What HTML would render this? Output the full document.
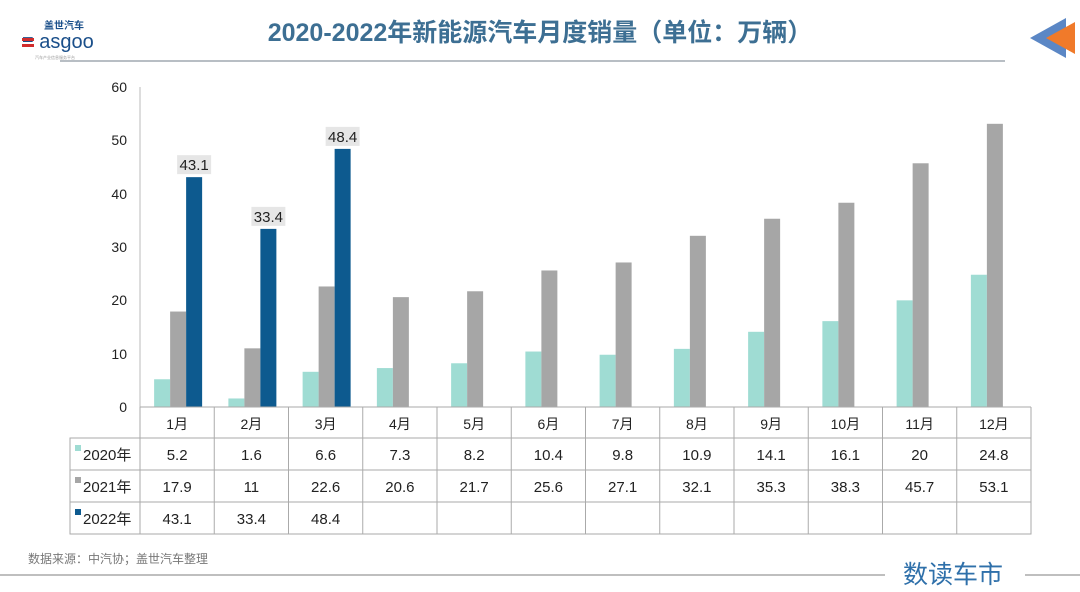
<!DOCTYPE html>
<html><head><meta charset="utf-8"><style>
body{margin:0;background:#fff;}
svg text{font-family:"Liberation Sans","Noto Sans CJK SC",sans-serif;}
</style></head><body>
<svg width="1080" height="587" viewBox="0 0 1080 587" xmlns="http://www.w3.org/2000/svg">
<rect width="1080" height="587" fill="#fff"/>
<!-- logo -->
<text x="44" y="29" font-size="10" fill="#1a4f8a" font-weight="bold">盖世汽车</text>
<text x="22" y="48" font-size="20" fill="#1a4f8a" font-family="Liberation Serif,serif">≡ asgoo</text>
<rect x="22" y="38" width="12" height="3" fill="#d12c2c"/>
<rect x="22" y="44" width="12" height="3" fill="#d12c2c"/>
<text x="35" y="59" font-size="4" fill="#999">汽车产业信息服务平台</text>
<!-- title -->
<text x="540" y="41" text-anchor="middle" font-size="25" font-weight="bold" fill="#3d6f93">2020-2022年新能源汽车月度销量（单位：万辆）</text>
<line x1="60" y1="61" x2="1005" y2="61" stroke="#a0a8b0" stroke-width="1.5"/>
<polygon points="1030,38 1066,18 1066,58" fill="#5b87c5"/>
<polygon points="1046,38 1075,22 1075,54" fill="#f07a2a"/>
<!-- y axis -->
<line x1="140" y1="87" x2="140" y2="407" stroke="#bbb"/>
<g font-size="14" fill="#222" text-anchor="end">
<text x="127" y="412">0</text><text x="127" y="359">10</text><text x="127" y="305">20</text>
<text x="127" y="252">30</text><text x="127" y="199">40</text><text x="127" y="145">50</text><text x="127" y="92">60</text>
</g>
<!-- bars -->
<g id="bars"></g>
<!-- table -->
<g stroke="#aaa" stroke-width="1" fill="none">
<rect x="70" y="438" width="961" height="96"/>
<line x1="140" y1="407" x2="1031" y2="407"/>
<line x1="1031" y1="407" x2="1031" y2="438"/>
<line x1="70" y1="470" x2="1031" y2="470"/>
<line x1="70" y1="502" x2="1031" y2="502"/>
</g>
<g id="tbl"></g>
<rect x="75" y="445" width="6" height="6" fill="#9fdcd3"/>
<rect x="75" y="477" width="6" height="6" fill="#a6a6a6"/>
<rect x="75" y="509" width="6" height="6" fill="#0d5a8f"/>
<g font-size="15" fill="#222">
<text x="83" y="460">2020年</text><text x="83" y="492">2021年</text><text x="83" y="524">2022年</text>
</g>
<text x="28" y="563" font-size="12" fill="#777">数据来源：中汽协；盖世汽车整理</text>
<line x1="0" y1="575" x2="885" y2="575" stroke="#aaa" stroke-width="1.5"/>
<line x1="1025" y1="575" x2="1080" y2="575" stroke="#aaa" stroke-width="1.5"/>
<text x="903" y="583" font-size="25" fill="#2f70aa">数读车市</text>
</svg>
<script>
const d20=[5.2,1.6,6.6,7.3,8.2,10.4,9.8,10.9,14.1,16.1,20,24.8];
const d21=[17.9,11,22.6,20.6,21.7,25.6,27.1,32.1,35.3,38.3,45.7,53.1];
const d22=[43.1,33.4,48.4];
const ns="http://www.w3.org/2000/svg";
const b=document.getElementById('bars'),t=document.getElementById('tbl');
const Y=v=>407-v*5.333;
function rect(p,x,y,w,h,f){const r=document.createElementNS(ns,'rect');r.setAttribute('x',x);r.setAttribute('y',y);r.setAttribute('width',w);r.setAttribute('height',h);r.setAttribute('fill',f);p.appendChild(r);}
function txt(p,x,y,s,fs,f){const e=document.createElementNS(ns,'text');e.setAttribute('x',x);e.setAttribute('y',y);e.setAttribute('font-size',fs);e.setAttribute('fill',f);e.setAttribute('text-anchor','middle');e.textContent=s;p.appendChild(e);}
function line(p,x1,y1,x2,y2){const l=document.createElementNS(ns,'line');l.setAttribute('x1',x1);l.setAttribute('y1',y1);l.setAttribute('x2',x2);l.setAttribute('y2',y2);l.setAttribute('stroke','#aaa');p.appendChild(l);}
for(let i=0;i<12;i++){
 const c=140+74.25*(i+0.5);
 rect(b,c-23,Y(d20[i]),16,407-Y(d20[i]),'#9fdcd3');
 rect(b,c-7,Y(d21[i]),16,407-Y(d21[i]),'#a6a6a6');
 if(i<3){rect(b,c+9,Y(d22[i]),16,407-Y(d22[i]),'#0d5a8f');
  rect(b,c,Y(d22[i])-22,34,19,'#e6e6e6');
  txt(b,c+17,Y(d22[i])-7,String(d22[i]),15,'#222');}
 line(t,140+74.25*i,407,140+74.25*i,534);
 txt(t,c,429,(i+1)+'月',14,'#222');
 txt(t,c,460,String(d20[i]),15,'#222');
 txt(t,c,492,String(d21[i]),15,'#222');
 if(i<3)txt(t,c,524,String(d22[i]),15,'#222');
}
</script>
</body></html>
